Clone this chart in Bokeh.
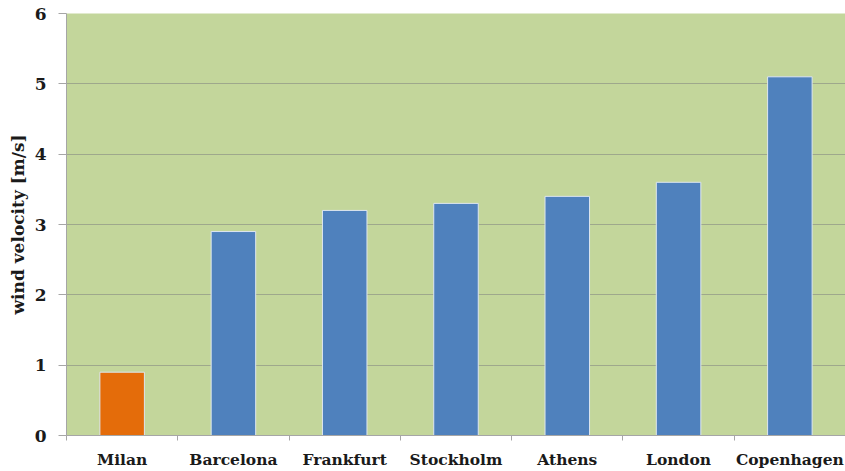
from bokeh.plotting import figure
from bokeh.models import Range1d, FixedTicker
from bokeh.embed import file_html
from bokeh.resources import INLINE
import numpy as np

cities = ["Milan", "Barcelona", "Frankfurt", "Stockholm", "Athens", "London", "Copenhagen"]
velocity = [0.9, 2.9, 3.2, 3.3, 3.4, 3.6, 5.1]
y_ticks = [0, 1, 2, 3, 4, 5, 6]
highlight = "Milan"

BLUE = "#4f81bd"
ORANGE = "#e46c0a"
GREEN = "#c3d69b"
GRID = "#9ea88c"
AXIS = "#a6a6a6"
FONT = "DejaVu Serif"

centers = list(np.arange(len(cities)) + 0.5)
bounds = list(np.arange(len(cities) + 1).astype(float))
colors = [ORANGE if c == highlight else BLUE for c in cities]

p = figure(width=845, height=471, output_backend="svg", toolbar_location=None,
           x_range=Range1d(0, len(cities)), y_range=Range1d(0, 6),
           min_border_left=66, min_border_right=0, min_border_top=13, min_border_bottom=36)

p.background_fill_color = GREEN
p.border_fill_color = "white"
p.outline_line_color = None

p.vbar(x=centers, top=velocity, width=0.4, bottom=0, fill_color=colors,
       line_color="#dde6f0", line_width=1)

# x axis
p.xaxis.ticker = FixedTicker(ticks=centers, minor_ticks=bounds)
p.xaxis.major_label_overrides = {float(c): n for c, n in zip(centers, cities)}
p.xaxis.major_tick_out = 0
p.xaxis.major_tick_in = 0
p.xaxis.minor_tick_out = 5
p.xaxis.minor_tick_in = 0
p.xaxis.minor_tick_line_color = AXIS
p.xaxis.axis_line_color = AXIS
p.xaxis.major_label_standoff = 9
p.xaxis.major_label_text_font = FONT
p.xaxis.major_label_text_font_style = "bold"
p.xaxis.major_label_text_font_size = "15.5px"
p.xaxis.major_label_text_color = "#1a1a1a"
p.xgrid.visible = False

# y axis
p.yaxis.ticker = FixedTicker(ticks=y_ticks)
p.yaxis.major_tick_out = 8
p.yaxis.major_tick_in = 0
p.yaxis.minor_tick_out = 0
p.yaxis.minor_tick_in = 0
p.yaxis.major_tick_line_color = AXIS
p.yaxis.axis_line_color = AXIS
p.yaxis.major_label_standoff = 12
p.yaxis.major_label_text_font = FONT
p.yaxis.major_label_text_font_style = "bold"
p.yaxis.major_label_text_font_size = "17px"
p.yaxis.major_label_text_color = "#1a1a1a"
p.yaxis.axis_label = "wind velocity [m/s]"
p.yaxis.axis_label_text_font = FONT
p.yaxis.axis_label_text_font_style = "bold"
p.yaxis.axis_label_text_font_size = "17px"
p.yaxis.axis_label_text_color = "#1a1a1a"
p.yaxis.axis_label_standoff = 4
p.ygrid.grid_line_color = GRID
p.ygrid.grid_line_width = 1

open("out.html", "w").write(file_html(p, INLINE))
